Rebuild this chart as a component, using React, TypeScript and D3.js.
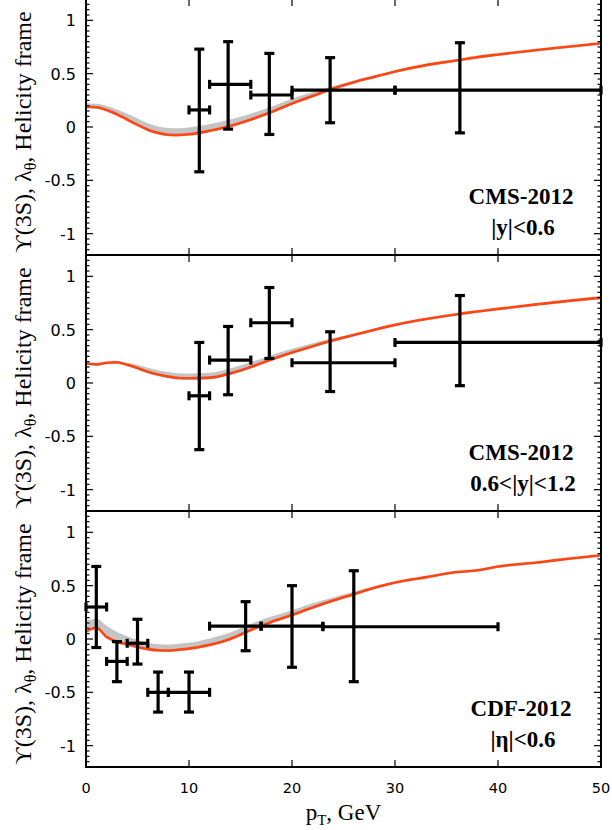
import * as d3 from 'd3'

// pT grid shared by the model curves (GeV)
const ptGrid = [0, 1, 2, 3, 4, 5, 6, 7, 8, 9, 10, 12, 14, 16, 18, 20, 22, 24, 26, 28, 30, 33, 36, 38, 40, 44, 47, 50]

// CMS |y|<0.6
const cms1Curve = [0.19, 0.185, 0.16, 0.12, 0.07, 0.02, -0.025, -0.055, -0.072, -0.075, -0.068, -0.035, 0.01, 0.07, 0.14, 0.22, 0.29, 0.36, 0.42, 0.47, 0.52, 0.58, 0.625, 0.655, 0.68, 0.725, 0.755, 0.785]
const cms1Band = [0.22, 0.217, 0.198, 0.165, 0.125, 0.08, 0.035, 0.005, -0.01, -0.012, -0.005, 0.025, 0.07, 0.125, 0.19, 0.265, 0.325, 0.385, 0.437, 0.482, 0.528, 0.585, 0.628, 0.657, 0.682, 0.727, 0.757, 0.787]
const cms1Pt = [11, 13.8, 17.8, 23.7, 36.3]
const cms1PtLo = [10, 12, 16, 20, 30]
const cms1PtHi = [12, 16, 20, 30, 50]
const cms1Lam = [0.16, 0.4, 0.3, 0.345, 0.345]
const cms1LamLo = [-0.42, -0.02, -0.07, 0.04, -0.055]
const cms1LamHi = [0.73, 0.8, 0.69, 0.65, 0.79]

// CMS 0.6<|y|<1.2
const cms2Curve = [0.185, 0.175, 0.19, 0.195, 0.17, 0.14, 0.105, 0.08, 0.06, 0.047, 0.044, 0.05, 0.09, 0.15, 0.22, 0.285, 0.345, 0.4, 0.45, 0.5, 0.545, 0.6, 0.645, 0.67, 0.695, 0.74, 0.772, 0.8]
const cms2Band = [0.19, 0.18, 0.195, 0.205, 0.19, 0.17, 0.142, 0.12, 0.103, 0.092, 0.089, 0.095, 0.135, 0.195, 0.26, 0.32, 0.373, 0.423, 0.465, 0.51, 0.552, 0.605, 0.648, 0.672, 0.697, 0.742, 0.774, 0.802]
const cms2Pt = [11, 13.8, 17.8, 23.7, 36.3]
const cms2PtLo = [10, 12, 16, 20, 30]
const cms2PtHi = [12, 16, 20, 30, 50]
const cms2Lam = [-0.12, 0.215, 0.565, 0.19, 0.38]
const cms2LamLo = [-0.625, -0.11, 0.23, -0.08, -0.025]
const cms2LamHi = [0.38, 0.53, 0.895, 0.48, 0.82]

// CDF |eta|<0.6
const cdfCurve = [0.07, 0.105, 0.02, -0.025, -0.05, -0.075, -0.095, -0.105, -0.108, -0.1, -0.09, -0.055, 0.0, 0.085, 0.16, 0.225, 0.295, 0.36, 0.42, 0.48, 0.53, 0.58, 0.628, 0.645, 0.68, 0.72, 0.755, 0.785]
const cdfBand = [0.17, 0.19, 0.125, 0.065, 0.025, -0.01, -0.035, -0.05, -0.053, -0.045, -0.035, 0.005, 0.06, 0.14, 0.21, 0.27, 0.335, 0.39, 0.443, 0.494, 0.539, 0.585, 0.631, 0.647, 0.682, 0.722, 0.757, 0.787]
const cdfPt = [1, 3, 5, 7, 10, 15.5, 20, 26]
const cdfPtLo = [0, 2, 4, 6, 8, 12, 17, 23]
const cdfPtHi = [2, 4, 6, 8, 12, 17, 23, 40]
const cdfLam = [0.3, -0.21, -0.04, -0.5, -0.5, 0.12, 0.12, 0.115]
const cdfLamLo = [-0.08, -0.4, -0.235, -0.685, -0.685, -0.11, -0.265, -0.4]
const cdfLamHi = [0.68, -0.025, 0.185, -0.31, -0.31, 0.35, 0.5, 0.64]

const xTicks = [0, 10, 20, 30, 40, 50]
const yTicks = [-1, -0.5, 0, 0.5, 1]

const panels = [
  { curve: cms1Curve, band: cms1Band, pt: cms1Pt, ptLo: cms1PtLo, ptHi: cms1PtHi, lam: cms1Lam, lamLo: cms1LamLo, lamHi: cms1LamHi, label: ['CMS-2012', '|y|<0.6'] },
  { curve: cms2Curve, band: cms2Band, pt: cms2Pt, ptLo: cms2PtLo, ptHi: cms2PtHi, lam: cms2Lam, lamLo: cms2LamLo, lamHi: cms2LamHi, label: ['CMS-2012', '0.6<|y|<1.2'] },
  { curve: cdfCurve, band: cdfBand, pt: cdfPt, ptLo: cdfPtLo, ptHi: cdfPtHi, lam: cdfLam, lamLo: cdfLamLo, lamHi: cdfLamHi, label: ['CDF-2012', '|η|<0.6'] },
]

const W = 612
const H = 830
const left = 86
const right = 601
const panelTops = [-1, 255, 511]
const panelH = 256

const ORANGE = '#ff4512'
const GRAY = '#c4c4c4'
const serif = "'Liberation Serif', 'Times New Roman', serif"
const sans = "'DejaVu Sans', sans-serif"

const x = d3.scaleLinear().domain([0, 50]).range([left, right])

function Panel({ p, top, idx }: { p: (typeof panels)[number]; top: number; idx: number }) {
  const y = d3.scaleLinear().domain([-1.2, 1.2]).range([top + panelH, top])
  const minor = y.ticks(48)

  const area = d3.area<number>()
    .x((_, i) => x(ptGrid[i]))
    .y0((_, i) => y(p.curve[i]) + 1.5)
    .y1((_, i) => y(p.band[i]))
    .curve(d3.curveMonotoneX)
  const line = d3.line<number>()
    .x((_, i) => x(ptGrid[i]))
    .y(d => y(d))
    .curve(d3.curveMonotoneX)

  const cap = 4.5
  const midY = top + panelH / 2 + 5

  return (
    <g>
      <path d={area(p.curve) || ''} fill={GRAY} />
      <path d={line(p.curve) || ''} fill="none" stroke={ORANGE} strokeWidth={2.6} />

      {/* error bars */}
      <g stroke="#000" strokeWidth={3.2} fill="none">
        {p.pt.map((v, i) => (
          <g key={i}>
            <line x1={x(p.ptLo[i])} x2={x(p.ptHi[i])} y1={y(p.lam[i])} y2={y(p.lam[i])} />
            <line x1={x(p.ptLo[i])} x2={x(p.ptLo[i])} y1={y(p.lam[i]) - cap} y2={y(p.lam[i]) + cap} />
            <line x1={x(p.ptHi[i])} x2={x(p.ptHi[i])} y1={y(p.lam[i]) - cap} y2={y(p.lam[i]) + cap} />
            <line x1={x(v)} x2={x(v)} y1={y(p.lamLo[i])} y2={y(p.lamHi[i])} />
            <line x1={x(v) - cap - 0.5} x2={x(v) + cap + 0.5} y1={y(p.lamLo[i])} y2={y(p.lamLo[i])} />
            <line x1={x(v) - cap - 0.5} x2={x(v) + cap + 0.5} y1={y(p.lamHi[i])} y2={y(p.lamHi[i])} />
          </g>
        ))}
      </g>

      {/* ticks */}
      <g stroke="#000" strokeWidth={1.2}>
        {minor.map(v => {
          const major = yTicks.some(t => Math.abs(t - v) < 1e-9)
          const len = major ? 7 : 3.5
          return (
            <g key={v}>
              <line x1={left} x2={left + len} y1={y(v)} y2={y(v)} />
              <line x1={right} x2={right - len} y1={y(v)} y2={y(v)} />
            </g>
          )
        })}
        {xTicks.map(t => (
          <g key={t}>
            <line x1={x(t)} x2={x(t)} y1={top} y2={top + 7} />
            <line x1={x(t)} x2={x(t)} y1={top + panelH} y2={top + panelH - 7} />
          </g>
        ))}
      </g>

      {/* frame */}
      <rect x={left} y={top} width={right - left} height={panelH} fill="none" stroke="#000" strokeWidth={2} />

      {/* y tick labels */}
      {yTicks.map(t => (
        <text key={t} x={left - 10} y={y(t)} dy="0.38em" textAnchor="end" fontFamily={sans} fontSize={16} fill="#000">
          {String(t)}
        </text>
      ))}

      {/* y axis title */}
      <text transform={`translate(31,${midY}) rotate(-90)`} textAnchor="middle" fontFamily={serif} fontSize={24} fill="#000">
        ϒ(3S), λ<tspan fontSize={16} dy={5}>θ</tspan><tspan dy={-5}>, Helicity frame</tspan>
      </text>

      {/* dataset label */}
      <text x={521} y={top + 205} textAnchor="middle" fontFamily={serif} fontWeight="bold" fontSize={23} fill="#000">
        {p.label[0]}
      </text>
      <text x={523} y={top + 236} textAnchor="middle" fontFamily={serif} fontWeight="bold" fontSize={23} fill="#000">
        {p.label[1]}
      </text>
      {idx === 2 && xTicks.map(t => (
        <text key={t} x={x(t)} y={top + panelH + 26} textAnchor="middle" fontFamily={sans} fontSize={14.5} fill="#000">
          {t}
        </text>
      ))}
    </g>
  )
}

export default function App() {
  return (
    <svg width={W} height={H} style={{ position: 'absolute', left: 0, top: 0, background: '#fff' }}>
      <rect width={W} height={H} fill="#fff" />
      {panels.map((p, i) => (
        <Panel key={i} p={p} top={panelTops[i]} idx={i} />
      ))}
      <text x={(left + right) / 2} y={820} textAnchor="middle" fontFamily={serif} fontSize={23} fill="#000">
        p<tspan fontSize={15} dy={5}>T</tspan><tspan dy={-5}>, GeV</tspan>
      </text>
    </svg>
  )
}
